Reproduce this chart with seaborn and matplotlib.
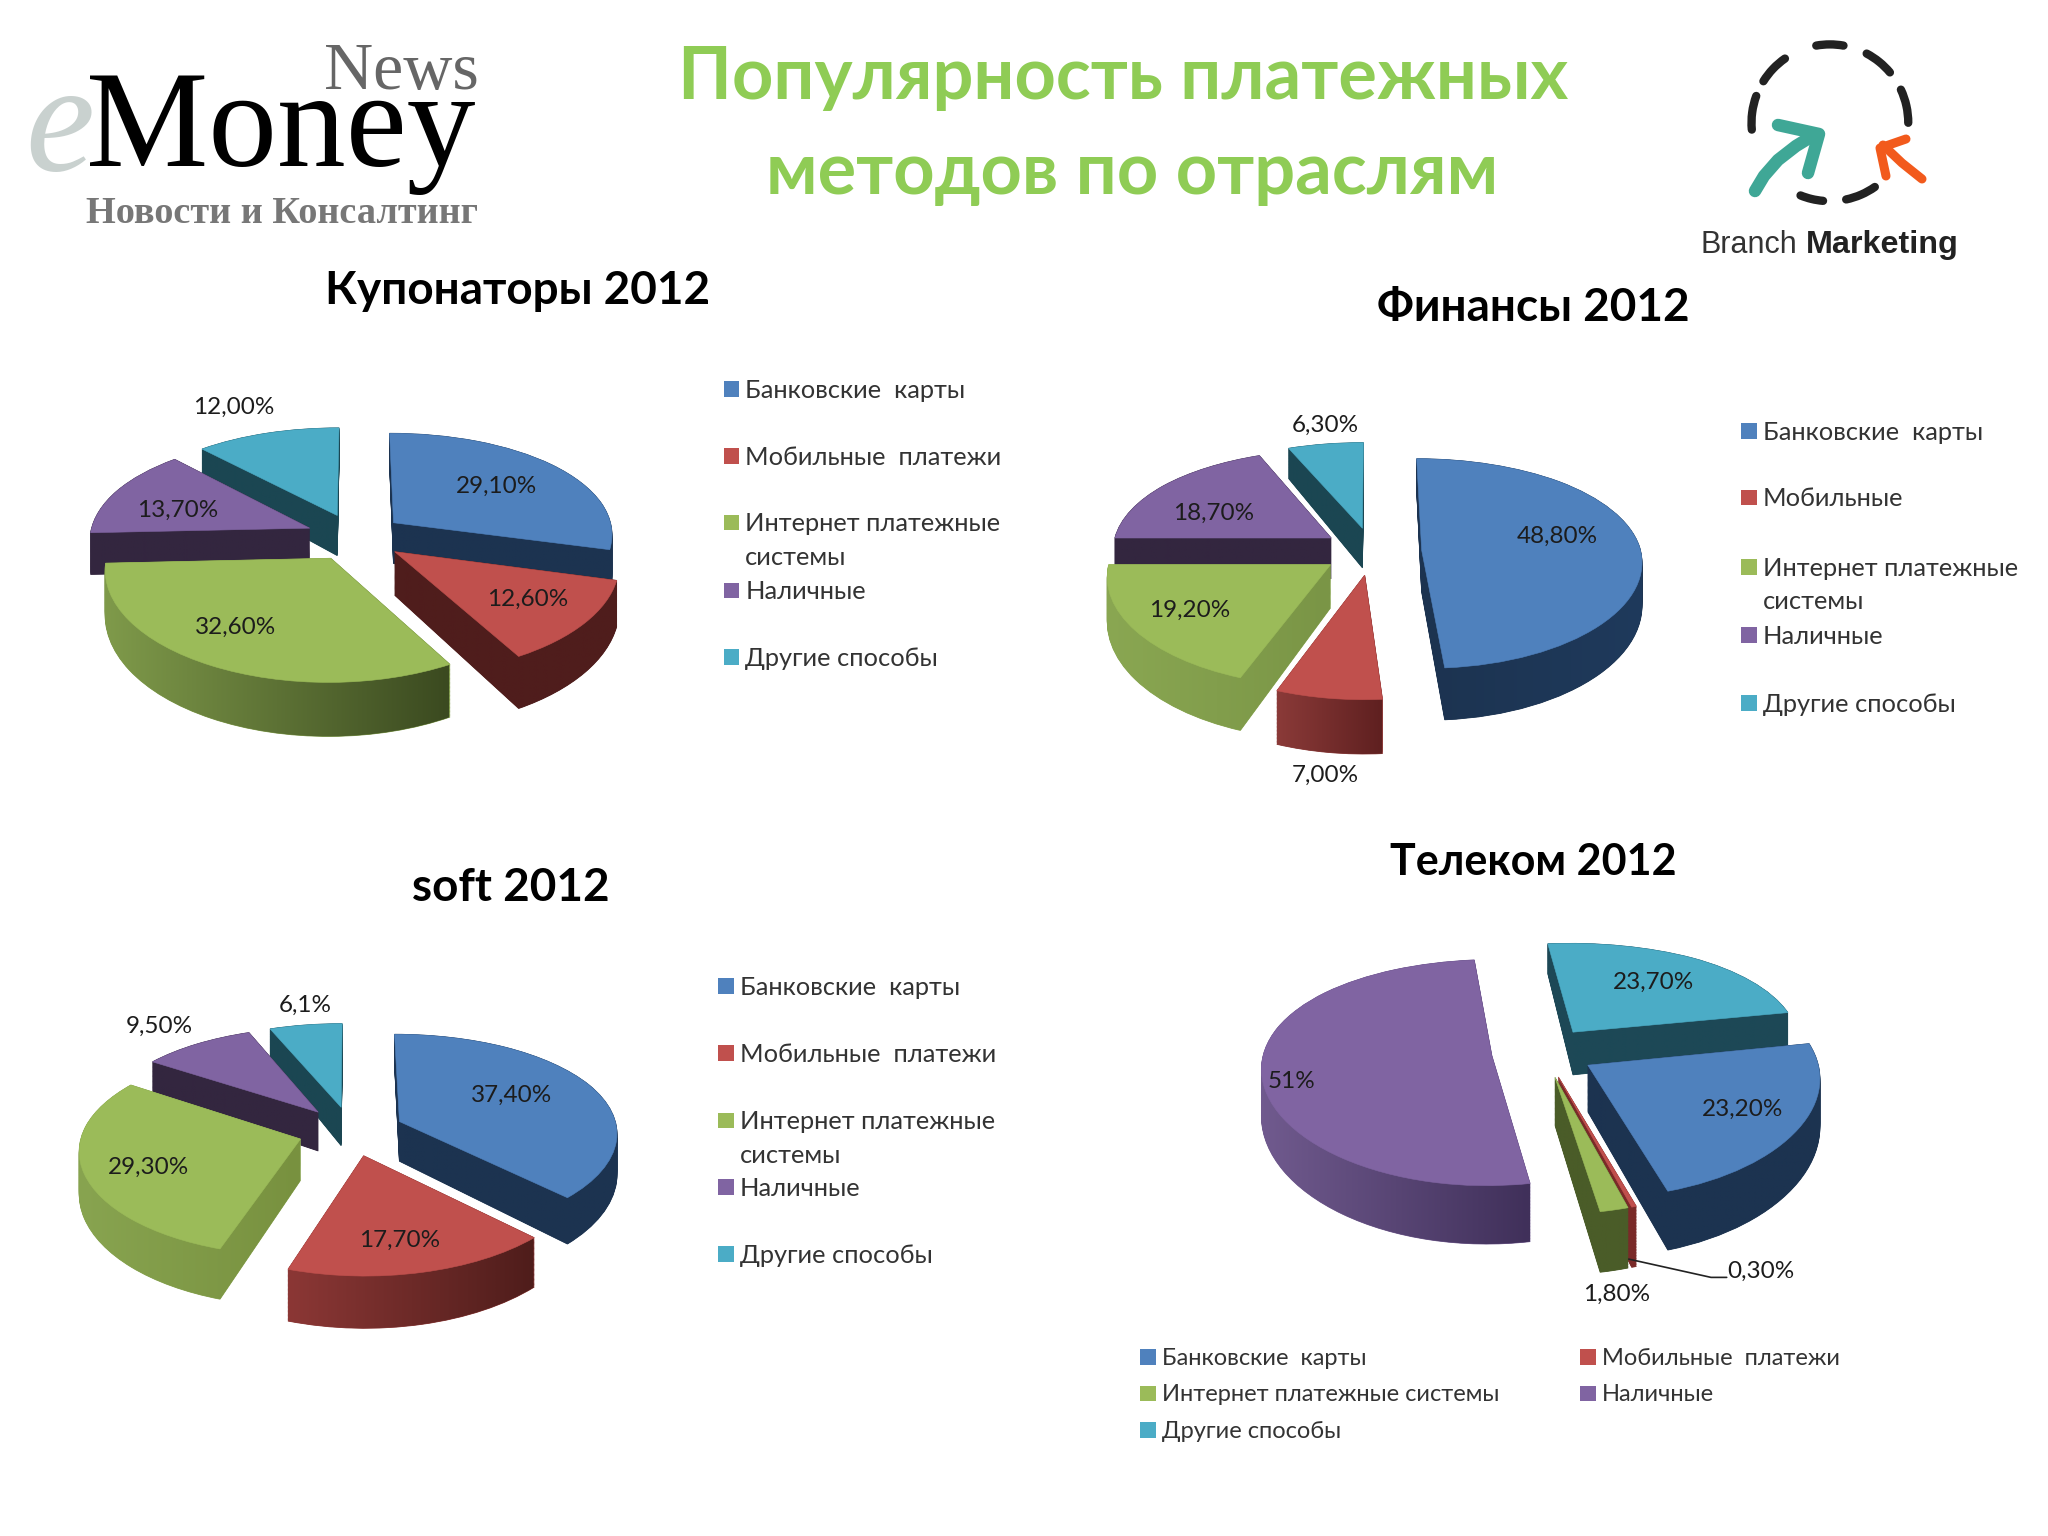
import numpy as np
import matplotlib
matplotlib.use("Agg")
import matplotlib.pyplot as plt
from matplotlib.patches import Arc, Rectangle
from matplotlib.path import Path
from matplotlib.transforms import Affine2D, Transform
import seaborn as sns

# data
methods = ['Банковские  карты', 'Мобильные  платежи', 'Интернет платежные\nсистемы', 'Наличные', 'Другие способы']
coupons = [29.1, 12.6, 32.6, 13.7, 12.0]
finance = [48.8, 7.0, 19.2, 18.7, 6.3]
soft = [37.4, 17.7, 29.3, 9.5, 6.1]
telecom = [23.2, 0.3, 1.8, 51.0, 23.7]
coupons_labels = ['29,10%', '12,60%', '32,60%', '13,70%', '12,00%']
finance_labels = ['48,80%', '7,00%', '19,20%', '18,70%', '6,30%']
soft_labels = ['37,40%', '17,70%', '29,30%', '9,50%', '6,1%']
telecom_labels = ['23,20%', '0,30%', '1,80%', '51%', '23,70%']

W, H = 2048, 1536
K = W / 1568

sns.set_theme(style="white")
plt.rcParams['font.family'] = ['Lato', 'Open Sans', 'DejaVu Sans']
palette = sns.color_palette(['#4F81BD', '#C0504D', '#9BBB59', '#8064A2', '#4BACC6'])

fig = plt.figure(figsize=(W / 100, H / 100), dpi=100, facecolor='white')

DK_BLUE = ('#1c3350', '#1c3350')
DK_RED = ('#4f1d1c', '#4f1d1c')
DK_PURPLE = ('#33263f', '#33263f')
DK_TEAL = ('#1b4652', '#1b4652')


class Narrowing(Transform):
    # back of the pie gets narrower, front gets wider
    input_dims = output_dims = 2
    is_separable = False
    has_inverse = False

    def __init__(self, p):
        super().__init__()
        self.p = p

    def transform_non_affine(self, values):
        values = np.asarray(values, dtype=float)
        return np.column_stack([values[:, 0] * (1 - self.p * values[:, 1]), values[:, 1]])


def draw_pie(values, cx, cy, rx, ry, q, explode, startangle, sides, depth=0.38, layers=40, p=0.1):
    # y is bent by a quadratic scale so the front of the pie looks closer
    def fwd(y):
        return ry * np.asarray(y, dtype=float) + q * np.asarray(y, dtype=float) ** 2

    def inv(s):
        s = np.asarray(s, dtype=float)
        return (-ry + np.sqrt(np.maximum(ry ** 2 + 4 * q * s, 0))) / (2 * q)

    ylo, yhi = -2.0, 1.7
    xm = 1.7
    top_px = cy - fwd(yhi)
    bot_px = cy - fwd(ylo)
    ax = fig.add_axes([(cx - xm * rx) / W, 1 - bot_px / H, 2 * xm * rx / W, (bot_px - top_px) / H])
    ax.set_yscale('function', functions=(fwd, inv))
    narrowing = Narrowing(p)

    mids = np.cumsum(values) - np.array(values) / 2
    mids = np.radians(mids * 3.6 + (90 - startangle))
    order = np.argsort(np.argsort(-np.cos(mids)))  # back slices first

    shapes = [[] for _ in values]
    for i in range(layers + 1):
        z = depth * i / layers
        cols = [sides[k][0] for k in range(len(values))]
        wedges, _ = ax.pie(values, colors=cols, explode=[explode] * len(values), startangle=startangle,
                           counterclock=False, radius=1)
        layer_trans = narrowing + Affine2D().translate(0, -z)
        for k, w in enumerate(wedges):
            w.set_edgecolor(cols[k])
            w.set_linewidth(0.6)
            w.set_zorder(order[k] * 100 + (layers - i) * 0.5 + 1)
            w.set_transform(layer_trans + ax.transData)
            base = w.get_patch_transform().transform_path(w.get_path())
            shapes[k].append(layer_trans.transform_path(base))

    for k in range(len(values)):
        # horizontal shading of the side wall
        verts = np.vstack([s.vertices for s in shapes[k]])
        c0, c1 = [np.array(matplotlib.colors.to_rgb(c)) for c in sides[k]]
        t = np.linspace(0, 1, 64)[None, :, None]
        grad = c0[None, None, :] * (1 - t) + c1[None, None, :] * t
        im = ax.imshow(grad, extent=[verts[:, 0].min(), verts[:, 0].max(), verts[:, 1].min(), verts[:, 1].max()],
                       aspect='auto', interpolation='bilinear', zorder=order[k] * 100 + 60)
        im.set_clip_path(Path.make_compound_path(*shapes[k]), ax.transData)

    tops, _ = ax.pie(values, colors=palette, explode=[explode] * len(values), startangle=startangle,
                     counterclock=False, radius=1)
    for k, w in enumerate(tops):
        w.set_zorder(order[k] * 100 + 70)
        w.set_edgecolor(palette[k])
        w.set_linewidth(0.4)
        w.set_transform(narrowing + ax.transData)

    ax.set_aspect('auto')
    ax.set_xlim(-xm, xm)
    ax.set_ylim(ylo, yhi)
    ax.set_axis_off()
    return ax


draw_pie(coupons, 355, 537, 220, 106, -13, 0.224, 90,
         [DK_BLUE, DK_RED, ('#7f9a4a', '#3b4a20'), DK_PURPLE, DK_TEAL])
draw_pie(finance, 1372, 551, 219, 105, -13.4, 0.227, 90,
         [('#1c3350', '#1f3a5c'), ('#8a3a38', '#5f2020'), ('#8aa752', '#7a9546'), DK_PURPLE, DK_TEAL])
draw_pie(soft, 351, 1131, 218, 102, -12.4, 0.243, 90,
         [DK_BLUE, ('#8b3735', '#4f1d1b'), ('#88a450', '#78913f'), DK_PURPLE, DK_TEAL])
draw_pie(telecom, 1543, 1052, 228, 112, -17, 0.226, 11,
         [DK_BLUE, ('#7a2a28', '#7a2a28'), ('#4a5c28', '#4a5c28'), ('#705a8e', '#40305a'), ('#1d4856', '#1d4856')])

# overlay in picture pixels for all text, legends and logos
ov = fig.add_axes([0, 0, 1, 1], zorder=50)
ov.set_xlim(0, W)
ov.set_ylim(H, 0)
ov.set_axis_off()
ov.patch.set_alpha(0)

TITLE_GREEN = '#8FCC55'
ov.text(860 * K, 60 * K, 'Популярность платежных', color=TITLE_GREEN, fontsize=52, fontweight='bold', ha='center', va='center')
ov.text(867 * K, 133 * K, 'методов по отраслям', color=TITLE_GREEN, fontsize=52, fontweight='bold', ha='center', va='center')

for txt, x, y, fs in [('Купонаторы 2012', 396, 223, 33), ('Финансы 2012', 1174, 236, 33),
                      ('soft 2012', 391, 680, 33), ('Телеком 2012', 1174, 660, 31)]:
    ov.text(x * K, y * K, txt, color='black', fontsize=fs, fontweight='bold', ha='center', va='center')


def put_labels(labels, spots):
    for txt, (x, y) in zip(labels, spots):
        ov.text(x * K, (y + 1) * K, txt, color='#1c1c1c', fontsize=17.5, ha='center', va='center')


put_labels(coupons_labels, [(380, 371), (404, 458), (180, 479), (136, 390), (179, 311)])
put_labels(finance_labels, [(1192, 410), (1015, 593), (911, 466), (929, 392), (1015, 325)])
put_labels(soft_labels, [(392, 838), (306, 949), (114, 893), (122, 785), (234, 769)])
put_labels(telecom_labels, [(1334, 848), (1348, 972), (1238, 990), (989, 827), (1266, 751)])
ov.plot(np.array([1247, 1310, 1322]) * K, np.array([964, 978, 978]) * K, color='#222222', lw=1.2)


def legend_item(k, txt, x, y, fs=18.3):
    # x, y: left of the square and centre of the first text line
    s = 12 * K
    ov.add_patch(Rectangle((x * K, y * K - s / 2), s, s, facecolor=palette[k], edgecolor='none'))
    for j, line in enumerate(txt.split('\n')):
        ov.text((x + 16.5) * K, (y + 1 + 25.5 * j) * K, line, color='#333333', fontsize=fs, ha='left', va='center')


for k, y in enumerate([298, 349, 400, 452, 503]):
    legend_item(k, methods[k], 554, y)
for k, y in enumerate([330, 381, 434, 486, 538]):
    legend_item(k, 'Мобильные' if k == 1 else methods[k], 1333, y)
for k, y in enumerate([755, 806, 858, 909, 960]):
    legend_item(k, methods[k], 550, y)
for k, (x, y) in enumerate([(873, 1039), (1210, 1039), (873, 1067), (1210, 1067), (873, 1095)]):
    legend_item(k, methods[k].replace('\n', ' '), x, y, fs=17)

# eMoney logo
serif = ['Liberation Serif', 'DejaVu Serif']
ov.text(19 * K, 130 * K, 'e', color='#c9d1cf', fontsize=112, family=serif, style='italic', ha='left', va='baseline')
ov.text(66 * K, 127 * K, 'Money', color='black', fontsize=99, family=serif, ha='left', va='baseline')
ov.text(248 * K, 68 * K, 'News', color='#666666', fontsize=49, family=serif, ha='left', va='baseline')
ov.text(66 * K, 171 * K, 'Новости и Консалтинг', color='#777777', fontsize=27.5, family=serif, fontweight='bold', ha='left', va='baseline')

# Branch Marketing logo
cx_logo, cy_logo = 1401 * K, 94 * K
for a0, a1 in [(80, 100), (40, 62), (0, 25), (-78, -55), (-112, -95), (160, 185), (125, 148)]:
    ov.add_patch(Arc((cx_logo, cy_logo), 120 * K, 120 * K, theta1=-a1, theta2=-a0, color='#222222', lw=6, capstyle='round'))
teal_arrow = '#3FA796'
ov.plot([1755, 1764, 1778, 1796, 1814], [191, 176, 160, 146, 135], color=teal_arrow, lw=9, solid_capstyle='round')
ov.plot([1778, 1819, 1808], [125, 134, 173], color=teal_arrow, lw=9, solid_capstyle='round', solid_joinstyle='round')
orange_arrow = '#F25A1C'
ov.plot([1922, 1902, 1883], [179, 163, 145], color=orange_arrow, lw=6.5, solid_capstyle='round')
ov.plot([1906, 1880, 1886], [139, 148, 176], color=orange_arrow, lw=6.5, solid_capstyle='round', solid_joinstyle='round')
sans = ['Liberation Sans', 'DejaVu Sans']
ov.text(1302 * K, 194 * K, 'Branch', color='#333333', fontsize=22, family=sans, ha='left', va='baseline')
ov.text(1383 * K, 194 * K, 'Marketing', color='#222222', fontsize=23.3, family=sans, fontweight='bold', ha='left', va='baseline')

fig.savefig('out.png', dpi=100, facecolor='white')
